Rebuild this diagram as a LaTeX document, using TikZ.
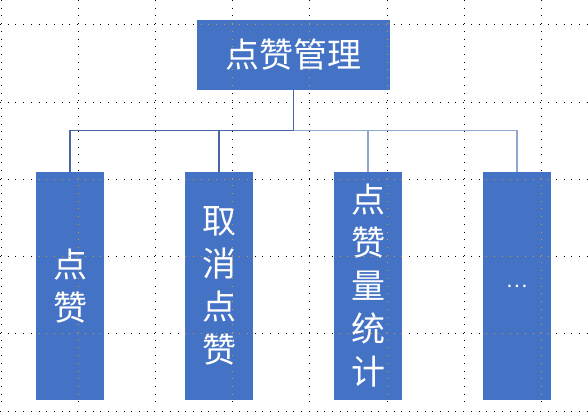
\documentclass[tikz,border=0pt]{standalone}
\usepackage{fontspec}
\usepackage{tikz}
\usetikzlibrary{positioning}
\newfontfamily\cjk{Noto Sans CJK SC}
\definecolor{BoxBlue}{RGB}{68,114,196}
\definecolor{LineDark}{RGB}{72,102,165}
\definecolor{LineLight}{RGB}{143,166,207}
\definecolor{GridDot}{RGB}{205,150,60}

% dotted page grid
\newcommand{\pagegrid}[1]{%
	\foreach \gx in {1,78.2,...,542} \draw[#1] (\gx,0) -- (\gx,405);
	\foreach \gy in {25,102.2,...,412} \draw[#1] (0,\gy) -- (588,\gy);
}

\begin{document}
\begin{tikzpicture}[x=1pt, y=-1pt,
		box/.style={fill=BoxBlue, text=white, inner sep=0pt, align=center,
			font=\cjk\fontsize{34}{43}\selectfont},
		leaf/.style={box, minimum width=68pt, minimum height=228pt},
		griddots/.style={line width=1pt, dash pattern=on 1pt off 6.72pt, #1},
		link/.style={line width=1.3pt, #1}]
		\useasboundingbox (0,0) rectangle (588,419);
		\pagegrid{griddots=black}
		
		\node[box, minimum width=193pt, minimum height=70pt] (root) at (293.5,55) {点赞管理};
		\node[leaf] (like) at (70,286) {点\\赞};
		\node[leaf] (unlike) at (219,286) {取\\消\\点\\赞};
		\node[leaf] (count) at (368,286) {点\\赞\\量\\统\\计};
		\node[leaf, font=\cjk\fontsize{20}{24}\selectfont] (more) at (517,286) {…};
		
		% connectors
		\coordinate (bus) at (0,130.5);
		\draw[link=LineDark] (root.south) -- (root.south |- bus);
		\draw[link=LineDark] (like.north) -- (like.north |- bus) -- (root.south |- bus);
		\draw[link=LineDark] (unlike.north) -- (unlike.north |- bus);
		\draw[link=LineLight] (root.south |- bus) -- (more.north |- bus) -- (more.north);
		\draw[link=LineLight] (count.north) -- (count.north |- bus);
		
		% grid showing through the boxes
		\begin{scope}
			\clip (root.north west) rectangle (root.south east)
				(like.north west) rectangle (like.south east)
				(unlike.north west) rectangle (unlike.south east)
				(count.north west) rectangle (count.south east)
				(more.north west) rectangle (more.south east);
			\pagegrid{griddots=GridDot}
		\end{scope}
	\end{tikzpicture}
\end{document}
